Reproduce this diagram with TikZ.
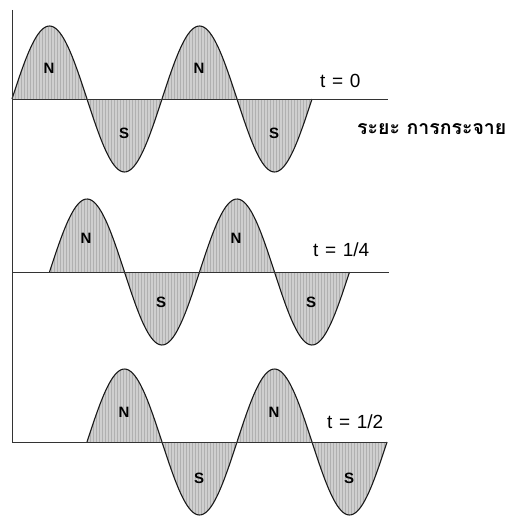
\documentclass[tikz,border=0pt]{standalone}
\usepackage{fontspec}
\setmainfont{Liberation Sans}
\newfontfamily\thaifont[Script=Thai]{Loma}
\usetikzlibrary{patterns}
\begin{document}
\begin{tikzpicture}[x=1pt,y=-1pt,
  wavefill/.style={fill=gray!38},
  wavehatch/.style={pattern=vertical lines, pattern color=gray!62},
  waveline/.style={draw=black!90, line width=1.1pt},
  baseline/.style={draw=black!80, line width=0.9pt},
  pole/.style={font=\bfseries\fontsize{15}{15}\selectfont, inner sep=0pt},
  tlabel/.style={font=\fontsize{19}{19}\selectfont, anchor=base west, inner sep=0pt},
  thailabel/.style={font=\thaifont\bfseries\fontsize{19.5}{19.5}\selectfont, anchor=base west, inner sep=0pt}]
\useasboundingbox (0,0) rectangle (516,516);
\foreach \bl/\xo in {99/12,272/49.5,442/87}{
  \path[wavefill] plot[variable=\t, domain=0:300, samples=151] ({\xo+\t},{\bl-73*sin(2.4*\t)}) -- cycle;
  \path[wavehatch] plot[variable=\t, domain=0:300, samples=151] ({\xo+\t},{\bl-73*sin(2.4*\t)}) -- cycle;
  \draw[waveline] plot[variable=\t, domain=0:300, samples=151] ({\xo+\t},{\bl-73*sin(2.4*\t)});
}
\coordinate (axtop) at (12,10);
\coordinate (axbot) at (12,442);
\coordinate (b1l) at (12,99);  \coordinate (b1r) at (388,99);
\coordinate (b2l) at (12,272); \coordinate (b2r) at (389,272);
\coordinate (b3l) at (12,442); \coordinate (b3r) at (387,442);
\draw[baseline] (axtop) -- (axbot);
\draw[baseline] (b1l) -- (b1r);
\draw[baseline] (b2l) -- (b2r);
\draw[baseline] (b3l) -- (b3r);
% pole labels
\node[pole] (n11) at (49,68) {N};
\node[pole] (s11) at (124,133) {S};
\node[pole] (n12) at (199,68) {N};
\node[pole] (s12) at (274,133) {S};
\node[pole] (n21) at (86,238) {N};
\node[pole] (s21) at (161,302) {S};
\node[pole] (n22) at (236,238) {N};
\node[pole] (s22) at (311,302) {S};
\node[pole] (n31) at (124,412) {N};
\node[pole] (s31) at (199,478) {S};
\node[pole] (n32) at (274,412) {N};
\node[pole] (s32) at (349,478) {S};
% time labels
\node[tlabel] (t0) at (320,88) {t\hspace{0.35em}=\hspace{0.35em}0};
\node[tlabel] (t1) at (313,256) {t\hspace{0.35em}=\hspace{0.35em}1/4};
\node[tlabel] (t2) at (327,428) {t\hspace{0.35em}=\hspace{0.35em}1/2};
\node[thailabel] (dist) at (357,135) {ระยะ การกระจาย};
\end{tikzpicture}
\end{document}
